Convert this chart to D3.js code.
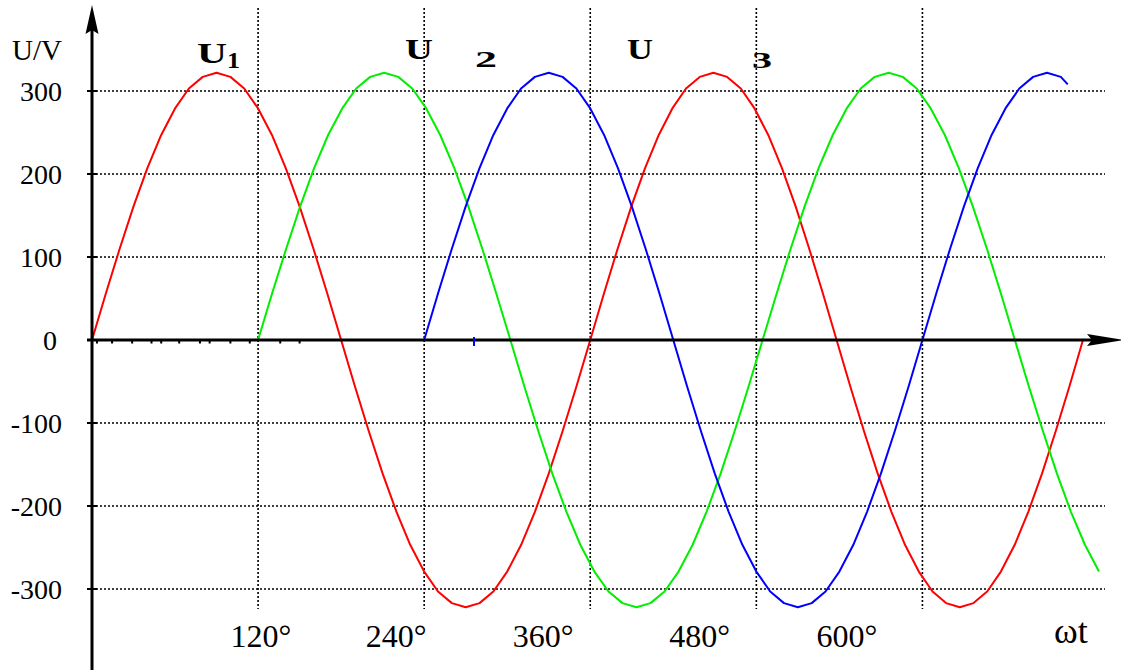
<!DOCTYPE html>
<html>
<head>
<meta charset="utf-8">
<script src="https://cdn.jsdelivr.net/npm/d3@7/dist/d3.min.js"></script>
<style>
  html, body { margin: 0; padding: 0; background: #fff; }
  svg { display: block; }
  text { font-family: "Liberation Serif", "Times New Roman", serif; fill: #000; }
</style>
</head>
<body>
<svg id="chart" width="1121" height="670"></svg>
<script>
// ---- data ----
const yTicks = [300, 200, 100, 0, -100, -200, -300];
const gridDeg = [120, 240, 360, 480, 600];
const xTickLabels = ["120°", "240°", "360°", "480°", "600°"];
const xTickLabelAt = [122, 219.7, 326, 439, 545.5];   // where each label sits, in degrees
const minorTickDeg = [3.6, 14.5, 29, 43, 50, 63, 78, 85, 100, 114, 136, 150];
const blueMarkDeg = [276];

const redDeg = [0,10,20,30,40,50,60,70,80,90,100,110,120,130,140,150,160,170,180,190,200,210,220,230,240,250,260,270,280,290,300,310,320,330,340,350,360,
  369.9,379.8,389.7,399.6,409.5,419.3,429.2,439.1,449,458.9,468.8,478.7,488.6,498.5,508.4,518.2,528.1,538,547.9,557.8,567.7,577.6,587.5,597.4,607.3,617.1,627,636.9,646.8,656.7,666.6,676.5,686.4,696.3,706.2,716];
const redV = [0,56,110,161,207,247,279,303,317,322,317,303,279,247,207,161,110,56,
  0,-56,-110,-161,-207,-247,-279,-303,-317,-322,-317,-303,-279,-247,-207,-161,-110,-56,
  0,56,110,161,207,247,279,303,317,322,317,303,279,247,207,161,110,56,
  0,-56,-110,-161,-207,-247,-279,-303,-317,-322,-317,-303,-279,-247,-207,-161,-110,-56,0];

const greenDeg = [120,130.1,140.3,150.4,160.5,170.6,180.8,190.9,201,211.1,221.3,231.4,241.5,251.6,261.8,271.9,282,292.1,
  302.3,312.4,322.5,332.6,342.8,352.9,363,373.2,383.3,393.4,403.5,413.7,423.8,433.9,444,454.2,464.3,474.4,
  484.5,494.7,504.8,514.9,525,535.2,545.3,555.4,565.5,575.7,585.8,595.9,606,616.2,626.3,636.4,646.6,656.7,
  666.8,676.9,687.1,697.2,707.3,717.5,727.6];
const greenV = [0,56,110,161,207,247,279,303,317,322,317,303,279,247,207,161,110,56,
  0,-56,-110,-161,-207,-247,-279,-303,-317,-322,-317,-303,-279,-247,-207,-161,-110,-56,
  0,56,110,161,207,247,279,303,317,322,317,303,279,247,207,161,110,56,
  0,-56,-110,-161,-207,-247,-279];

const blueDeg = [240,250,260,270,280,290,300,310,320,330,340,350,360,370,380,390,400,410,
  420,430,440,450,460,470,480,490,500,510,520,530,540,550,560,570,580,590,
  600,610,620,630,640,650,660,670,680,690,700,705];
const blueV = [0,56,110,161,207,247,279,303,317,322,317,303,279,247,207,161,110,56,
  0,-56,-110,-161,-207,-247,-279,-303,-317,-322,-317,-303,-279,-247,-207,-161,-110,-56,
  0,56,110,161,207,247,279,303,317,322,317,308];

// ---- drawing ----
const svg = d3.select("#chart");
const x = d3.scaleLinear().domain([0, 720]).range([92, 1088.5]);
const y = d3.scaleLinear().domain([-300, 300]).range([589, 91]);

const dotted = "2,2";

// vertical grid
svg.append("g").selectAll("line").data(gridDeg).join("line")
  .attr("x1", d => x(d)).attr("x2", d => x(d))
  .attr("y1", 8).attr("y2", 609)
  .attr("stroke", "#000").attr("stroke-width", 1.6).attr("stroke-dasharray", dotted);

// horizontal grid
svg.append("g").selectAll("line").data(yTicks.filter(d => d !== 0)).join("line")
  .attr("x1", x(0)).attr("x2", 1105)
  .attr("y1", d => y(d)).attr("y2", d => y(d))
  .attr("stroke", "#000").attr("stroke-width", 1.6).attr("stroke-dasharray", dotted);

// y axis ticks
svg.append("g").selectAll("line").data(yTicks).join("line")
  .attr("x1", x(0) - 5).attr("x2", x(0) + 5)
  .attr("y1", d => y(d)).attr("y2", d => y(d))
  .attr("stroke", "#000").attr("stroke-width", 2);

// y tick labels
svg.append("g").selectAll("text").data(yTicks).join("text")
  .attr("x", d => d === 0 ? 57 : 62)
  .attr("y", d => y(d) + 9.5)
  .attr("text-anchor", "end")
  .style("font-size", "28px")
  .text(d => d);

// x tick labels
svg.append("g").selectAll("text").data(xTickLabels).join("text")
  .attr("x", (d, i) => x(xTickLabelAt[i]))
  .attr("y", 647)
  .attr("text-anchor", "middle")
  .style("font-size", "32px")
  .text(d => d);

// curves
const line = d3.line().x(d => x(d[0])).y(d => y(d[1]));
const series = [
  { deg: redDeg, v: redV, color: "#ff0000" },
  { deg: greenDeg, v: greenV, color: "#00ee00" },
  { deg: blueDeg, v: blueV, color: "#0000ff" }
];
svg.append("g").selectAll("path").data(series).join("path")
  .attr("d", s => line(s.deg.map((d, i) => [d, s.v[i]])))
  .attr("fill", "none")
  .attr("stroke", s => s.color)
  .attr("stroke-width", 2)
  .attr("stroke-linejoin", "round");

// axes
svg.append("line")
  .attr("x1", x(0)).attr("x2", x(0)).attr("y1", 28).attr("y2", 670)
  .attr("stroke", "#000").attr("stroke-width", 3);
svg.append("line")
  .attr("x1", x(0) - 5).attr("x2", 1092).attr("y1", y(0)).attr("y2", y(0))
  .attr("stroke", "#000").attr("stroke-width", 3);

// minor x marks near origin
svg.append("g").selectAll("rect").data(minorTickDeg).join("rect")
  .attr("x", d => x(d) - 1).attr("y", y(0) + 1).attr("width", 2).attr("height", 2.5)
  .attr("fill", "#000");
svg.append("g").selectAll("line").data(blueMarkDeg).join("line")
  .attr("x1", d => x(d)).attr("x2", d => x(d))
  .attr("y1", y(0) - 3).attr("y2", y(0) + 6)
  .attr("stroke", "#0000ff").attr("stroke-width", 2);

// arrowheads
const ax = x(0), ay = y(0);
svg.append("path")
  .attr("d", `M${ax},5 L${ax + 6.5},34 L${ax},30 L${ax - 6.5},34 Z`)
  .attr("fill", "#000");
svg.append("path")
  .attr("d", `M1124,${ay} L1087,${ay - 6} L1092,${ay} L1087,${ay + 6} Z`)
  .attr("fill", "#000");

// axis titles
svg.append("text").attr("x", 12).attr("y", 60).style("font-size", "29px").text("U/V");
svg.append("text").attr("x", 1054).attr("y", 643).style("font-size", "36px").text("ωt");

// phase labels
const phaseLabels = [
  { u: [197, 63, 30], n: "1", s: [227, 68, 13] },
  { u: [405, 59, 28], n: "2", s: [475, 67, 22] },
  { u: [627, 59, 26], n: "3", s: [752, 68, 20] }
];
phaseLabels.forEach(p => {
  svg.append("text").attr("x", p.u[0]).attr("y", p.u[1])
    .attr("textLength", p.u[2]).attr("lengthAdjust", "spacingAndGlyphs")
    .style("font-size", "29px").style("font-weight", "bold").text("U");
  svg.append("text").attr("x", p.s[0]).attr("y", p.s[1])
    .attr("textLength", p.s[2]).attr("lengthAdjust", "spacingAndGlyphs")
    .style("font-size", "23px").style("font-weight", "bold").text(p.n);
});
</script>
</body>
</html>
